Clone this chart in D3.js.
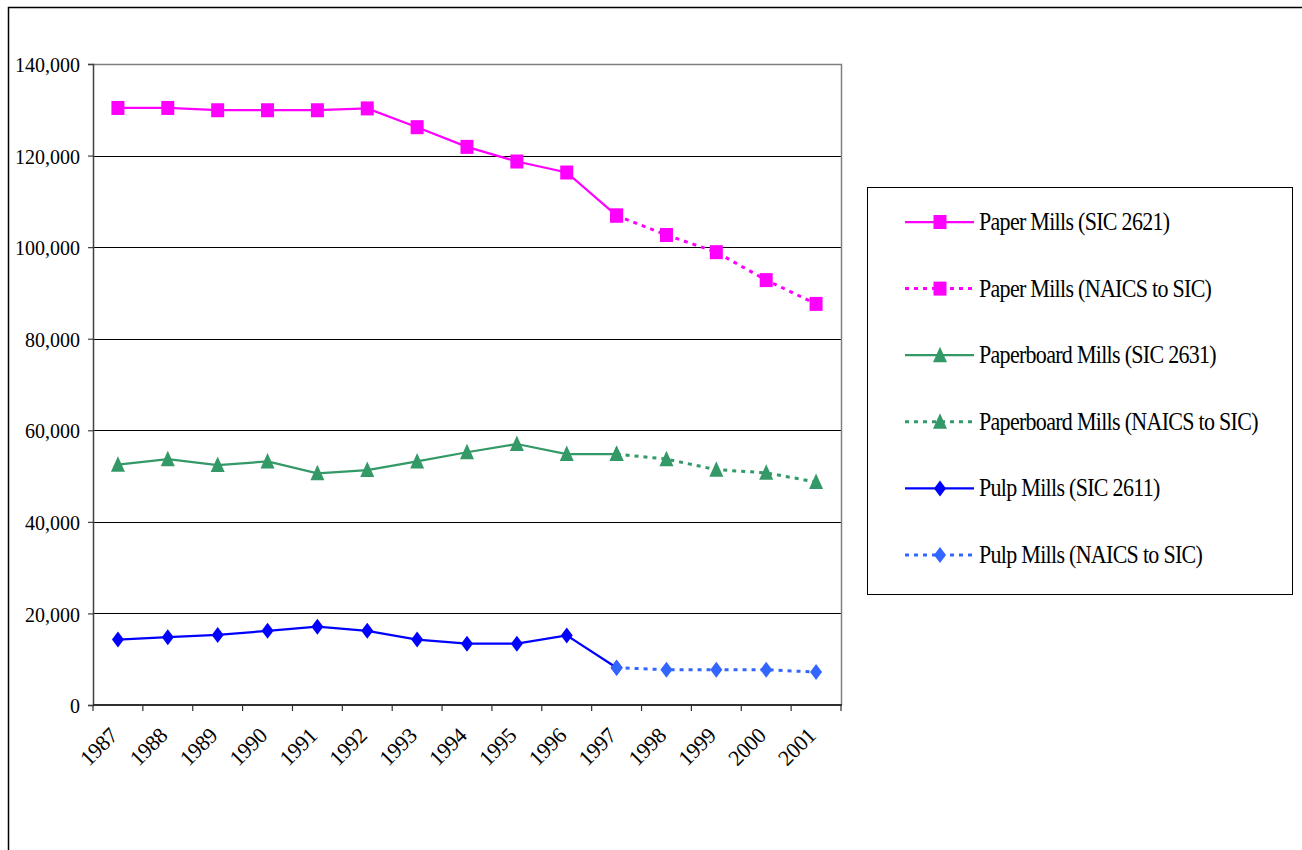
<!DOCTYPE html>
<html>
<head>
<meta charset="utf-8">
<script src="https://cdn.jsdelivr.net/npm/d3@7"></script>
<style>
  html, body { margin: 0; padding: 0; background: #fff; }
  svg { display: block; }
  text { font-family: "Liberation Serif", "Times New Roman", serif; fill: #000; }
</style>
</head>
<body>
<svg id="chart" width="1302" height="850"></svg>
<script>
// Employment by mill type, 1987-2001
const years = ["1987","1988","1989","1990","1991","1992","1993","1994","1995","1996","1997","1998","1999","2000","2001"];
const yTicks = [0, 20000, 40000, 60000, 80000, 100000, 120000, 140000];

// SIC-based series run 1987-1997, NAICS-converted series run 1997-2001
const sicYears = years.slice(0, 11);
const naicsYears = years.slice(10);

const paperSIC = [130400, 130400, 129900, 129900, 129900, 130300, 126200, 121900, 118700, 116300, 106900];
const paperNAICS = [106900, 102650, 98900, 92800, 87600];
const boardSIC = [52500, 53700, 52400, 53200, 50600, 51300, 53200, 55200, 57000, 54800, 54800];
const boardNAICS = [54800, 53700, 51400, 50700, 48700];
const pulpSIC = [14300, 14800, 15300, 16200, 17100, 16200, 14300, 13400, 13400, 15200, 8150];
const pulpNAICS = [8150, 7700, 7700, 7700, 7200];

const legendLabels = [
  "Paper Mills (SIC 2621)",
  "Paper Mills (NAICS to SIC)",
  "Paperboard Mills (SIC 2631)",
  "Paperboard Mills (NAICS to SIC)",
  "Pulp Mills (SIC 2611)",
  "Pulp Mills (NAICS to SIC)"
];

const series = [
  { name: legendLabels[0], xs: sicYears,   vals: paperSIC,   color: "#ff00ff", dotted: false, marker: "square" },
  { name: legendLabels[1], xs: naicsYears, vals: paperNAICS, color: "#ff00ff", dotted: true,  marker: "square" },
  { name: legendLabels[2], xs: sicYears,   vals: boardSIC,   color: "#339966", dotted: false, marker: "triangle" },
  { name: legendLabels[3], xs: naicsYears, vals: boardNAICS, color: "#339966", dotted: true,  marker: "triangle" },
  { name: legendLabels[4], xs: sicYears,   vals: pulpSIC,    color: "#0000ff", dotted: false, marker: "diamond" },
  { name: legendLabels[5], xs: naicsYears, vals: pulpNAICS,  color: "#3366ff", dotted: true,  marker: "diamond" }
];

const svg = d3.select("#chart");

// outer frame
svg.append("rect")
  .attr("x", 8.5).attr("y", 7.5)
  .attr("width", 1320).attr("height", 900)
  .attr("fill", "none").attr("stroke", "#000").attr("stroke-width", 1.5);

const plot = { left: 93, right: 841, top: 64, bottom: 705 };

const x = d3.scaleBand().domain(years).range([plot.left, plot.right]);
const y = d3.scaleLinear().domain([0, 140000]).range([plot.bottom, plot.top]);

// horizontal gridlines
svg.append("g")
  .selectAll("line")
  .data(yTicks.filter(t => t > 0 && t < 140000))
  .join("line")
  .attr("x1", plot.left).attr("x2", plot.right)
  .attr("y1", d => Math.round(y(d)) + 0.5).attr("y2", d => Math.round(y(d)) + 0.5)
  .attr("stroke", "#000").attr("stroke-width", 1);

// plot area border (top and right)
svg.append("path")
  .attr("d", `M${plot.left},${plot.top + 0.5}H${plot.right + 0.5}V${plot.bottom}`)
  .attr("fill", "none").attr("stroke", "#808080").attr("stroke-width", 1.5);

// y axis
const yAxis = d3.axisLeft(y)
  .tickValues(yTicks)
  .tickSize(5)
  .tickPadding(8)
  .tickFormat(d3.format(","));
const gy = svg.append("g").attr("transform", `translate(${plot.left},0)`).call(yAxis);
gy.select(".domain").attr("stroke", "#404040").attr("stroke-width", 1.5);
gy.selectAll(".tick line").attr("stroke", "#404040").attr("stroke-width", 1.2);
gy.selectAll(".tick text")
  .style("font-family", "'Liberation Serif', 'Times New Roman', serif")
  .style("font-size", "20px")
  .attr("dy", "0.35em")
  .attr("transform", "scale(1,1.08)");

// x axis: ticks at category boundaries, labels centred and rotated
const gx = svg.append("g").attr("transform", `translate(0,${plot.bottom})`);
gx.append("line")
  .attr("x1", plot.left).attr("x2", plot.right + 1)
  .attr("stroke", "#303030").attr("stroke-width", 2);
const boundaries = years.map(yr => x(yr)).concat([plot.right]);
gx.selectAll("line.tk")
  .data(boundaries)
  .join("line").attr("class", "tk")
  .attr("x1", d => d).attr("x2", d => d)
  .attr("y1", 0).attr("y2", 6)
  .attr("stroke", "#303030").attr("stroke-width", 1.2);
gx.selectAll("text")
  .data(years)
  .join("text")
  .attr("transform", d => `translate(${x(d) + x.bandwidth() / 2 + 1},${32}) rotate(-45)`)
  .attr("text-anchor", "end")
  .style("font-size", "22px")
  .style("letter-spacing", "-0.4px")
  .text(d => d);

// markers
function markerPath(type) {
  if (type === "square") return "M-6.5,-7H6.5V7H-6.5Z";
  if (type === "triangle") return "M0,-8.5L7,7H-7Z";
  return "M0,-8L6,0L0,8L-6,0Z";
}

const line = d3.line().x(d => d[0]).y(d => d[1]);

series.forEach(s => {
  const pts = s.xs.map((yr, i) => [x(yr) + x.bandwidth() / 2, y(s.vals[i])]);
  const g = svg.append("g");
  g.append("path")
    .attr("d", line(pts))
    .attr("fill", "none")
    .attr("stroke", s.color)
    .attr("stroke-width", s.dotted ? 3 : 2.25)
    .attr("stroke-dasharray", s.dotted ? "4,5" : null);
  g.selectAll("path.mk")
    .data(pts)
    .join("path").attr("class", "mk")
    .attr("d", markerPath(s.marker))
    .attr("transform", d => `translate(${d[0]},${d[1]})`)
    .attr("fill", s.color);
});

// legend
const lg = svg.append("g");
lg.append("rect")
  .attr("x", 867.5).attr("y", 187.5)
  .attr("width", 425).attr("height", 407)
  .attr("fill", "#fff").attr("stroke", "#000").attr("stroke-width", 1);

const rowY = d3.scaleLinear().domain([0, 5]).range([222, 555]);
series.forEach((s, i) => {
  const cy = rowY(i);
  lg.append("line")
    .attr("x1", 905).attr("x2", 974)
    .attr("y1", cy).attr("y2", cy)
    .attr("stroke", s.color)
    .attr("stroke-width", s.dotted ? 3 : 2.25)
    .attr("stroke-dasharray", s.dotted ? "4,5" : null);
  lg.append("path")
    .attr("d", markerPath(s.marker))
    .attr("transform", `translate(940,${cy})`)
    .attr("fill", s.color);
  lg.append("text")
    .attr("transform", `translate(979,${cy + 8}) scale(1,1.12)`)
    .style("font-size", "22px")
    .style("letter-spacing", "-0.7px")
    .text(s.name);
});
</script>
</body>
</html>
